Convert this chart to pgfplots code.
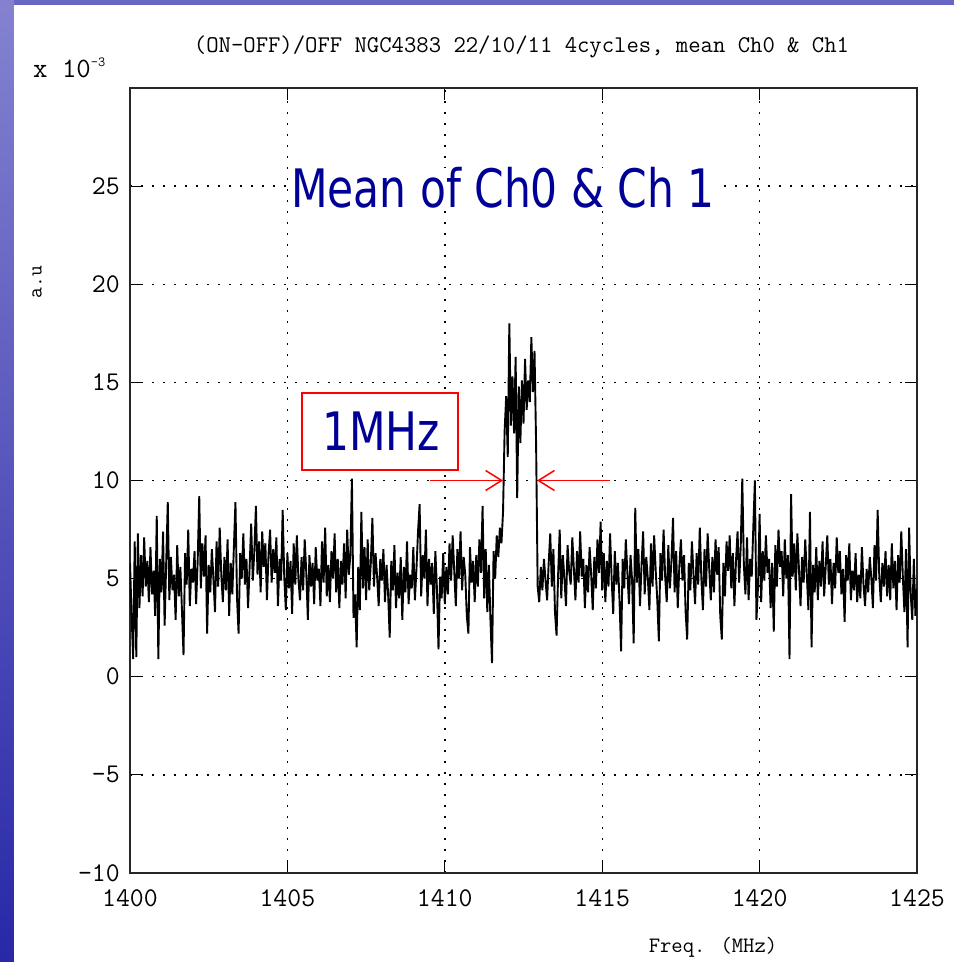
\documentclass[border=0pt]{standalone}
\usepackage{pgfplots}
\pgfplotsset{compat=1.18}
\usepackage{fontspec}
\newfontfamily\dejavu{DejaVu Sans}
\usetikzlibrary{arrows.meta}
\definecolor{navytext}{RGB}{0,0,150}
\definecolor{stripTop}{RGB}{132,130,208}
\definecolor{stripBot}{RGB}{40,40,168}
\definecolor{topstrip}{RGB}{104,102,196}
\newcommand{\tlab}[1]{\mbox{\fontsize{27}{27}\ttfamily #1}}
\begin{document}
\begin{tikzpicture}
\path[use as bounding box, fill=white] (-130pt,-89pt) rectangle (824pt,873pt);
\shade[top color=stripTop, bottom color=stripBot] (-130pt,-89pt) rectangle (-116pt,873pt);
\fill[topstrip] (-116pt,868pt) rectangle (824pt,873pt);
\begin{axis}[
  scale only axis, width=787pt, height=785pt,
  at={(0,0)}, anchor=south west,
  xmin=1400, xmax=1425, ymin=-10, ymax=30,
  xtick={1400,1405,1410,1415,1420,1425},
  xticklabels={\tlab{1400},\tlab{1405},\tlab{1410},\tlab{1415},\tlab{1420},\tlab{1425}},
  ytick={-10,-5,0,5,10,15,20,25},
  yticklabels={\tlab{-10},\tlab{-5},\tlab{0},\tlab{5},\tlab{10},\tlab{15},\tlab{20},\tlab{25}},
  tick pos=both, tick align=inside, major tick length=12pt,
  tick style={black, line width=1pt},
  axis line style={black!85, line width=1.2pt},
  grid=major,
  major grid style={black, line width=1.4pt, dash pattern=on 1.8pt off 9.2pt},
  ticklabel style={inner sep=0pt},
  xticklabel style={anchor=base, yshift=-33pt},
  yticklabel style={anchor=east, xshift=-10pt},
  clip=true,
]
\addplot[black, line width=1.9pt, line join=bevel] coordinates {
(1400.00,5.8)(1400.05,3.2)(1400.10,0.9)(1400.15,6.9)(1400.20,1.0)(1400.25,7.3)(1400.30,3.5)(1400.35,6.2)(1400.40,4.1)(1400.45,7.1)
(1400.50,4.6)(1400.55,5.9)(1400.60,3.8)(1400.65,6.6)(1400.70,4.2)(1400.75,5.4)(1400.80,3.1)(1400.85,8.2)(1400.90,0.9)(1400.95,6.0)
(1401.00,4.3)(1401.05,7.4)(1401.10,2.6)(1401.15,5.8)(1401.20,8.9)(1401.25,3.9)(1401.30,6.1)(1401.35,4.4)(1401.40,5.2)(1401.45,2.9)
(1401.50,6.7)(1401.55,4.1)(1401.60,5.6)(1401.65,3.4)(1401.70,1.1)(1401.75,6.3)(1401.80,4.7)(1401.85,7.5)(1401.90,3.6)(1401.95,5.5)
(1402.00,4.8)(1402.05,6.4)(1402.10,3.7)(1402.15,5.9)(1402.20,9.2)(1402.25,4.5)(1402.30,6.8)(1402.35,5.1)(1402.40,7.2)(1402.45,2.2)
(1402.50,5.7)(1402.55,4.3)(1402.60,6.5)(1402.65,5.0)(1402.70,3.3)(1402.75,6.9)(1402.80,4.6)(1402.85,7.6)(1402.90,5.2)(1402.95,3.8)
(1403.00,6.1)(1403.05,4.4)(1403.10,7.0)(1403.15,3.1)(1403.20,5.8)(1403.25,4.2)(1403.30,6.6)(1403.35,8.9)(1403.40,4.0)(1403.45,2.2)
(1403.50,6.3)(1403.55,5.0)(1403.60,7.3)(1403.65,4.7)(1403.70,6.0)(1403.75,3.5)(1403.80,5.6)(1403.85,7.8)(1403.90,4.9)(1403.95,6.4)
(1404.00,8.7)(1404.05,5.2)(1404.10,6.9)(1404.15,4.3)(1404.20,7.4)(1404.25,5.6)(1404.30,6.8)(1404.35,3.9)(1404.40,6.2)(1404.45,7.5)
(1404.50,4.8)(1404.55,6.5)(1404.60,5.3)(1404.65,7.1)(1404.70,3.6)(1404.75,6.0)(1404.80,4.9)(1404.85,8.5)(1404.90,5.1)(1404.95,3.4)
(1405.00,6.3)(1405.05,4.5)(1405.10,5.9)(1405.15,3.2)(1405.20,6.8)(1405.25,4.7)(1405.30,7.2)(1405.35,5.0)(1405.40,3.9)(1405.45,6.1)
(1405.50,4.4)(1405.55,7.0)(1405.60,5.3)(1405.65,2.9)(1405.70,6.2)(1405.75,4.6)(1405.80,5.8)(1405.85,3.7)(1405.90,6.6)(1405.95,4.9)
(1406.00,5.5)(1406.05,3.6)(1406.10,6.9)(1406.15,4.8)(1406.20,7.6)(1406.25,4.1)(1406.30,5.7)(1406.35,3.8)(1406.40,6.4)(1406.45,5.0)
(1406.50,7.3)(1406.55,4.3)(1406.60,6.0)(1406.65,3.5)(1406.70,5.9)(1406.75,4.7)(1406.80,6.8)(1406.85,4.0)(1406.90,7.5)(1406.95,5.2)
(1407.00,6.2)(1407.05,10.1)(1407.10,3.0)(1407.15,4.2)(1407.20,1.5)(1407.25,5.6)(1407.30,3.4)(1407.35,8.4)(1407.40,4.5)(1407.45,6.6)
(1407.50,3.9)(1407.55,7.0)(1407.60,4.4)(1407.65,5.8)(1407.70,8.1)(1407.75,4.6)(1407.80,6.3)(1407.85,5.1)(1407.90,3.6)(1407.95,6.0)
(1408.00,4.9)(1408.05,6.5)(1408.10,3.8)(1408.15,5.7)(1408.20,4.2)(1408.25,2.0)(1408.30,5.9)(1408.35,4.4)(1408.40,6.7)(1408.45,3.5)
(1408.50,5.3)(1408.55,4.0)(1408.60,6.1)(1408.65,2.9)(1408.70,5.6)(1408.75,4.3)(1408.80,6.9)(1408.85,3.7)(1408.90,5.2)(1408.95,4.5)
(1409.00,6.6)(1409.05,3.9)(1409.10,5.5)(1409.15,7.4)(1409.20,8.8)(1409.25,4.1)(1409.30,6.2)(1409.35,5.0)(1409.40,7.5)(1409.45,3.6)
(1409.50,6.0)(1409.55,4.7)(1409.60,5.8)(1409.65,3.2)(1409.70,6.4)(1409.75,4.5)(1409.80,1.4)(1409.85,5.1)(1409.90,4.0)(1409.95,6.3)
(1410.00,3.7)(1410.05,5.6)(1410.10,4.2)(1410.15,6.8)(1410.20,4.9)(1410.25,7.2)(1410.30,5.4)(1410.35,3.6)(1410.40,6.5)(1410.45,5.0)
(1410.50,7.4)(1410.55,4.4)(1410.60,6.1)(1410.65,5.2)(1410.70,3.1)(1410.75,2.2)(1410.80,6.6)(1410.85,4.8)(1410.90,5.9)(1410.95,3.8)
(1411.00,6.2)(1411.05,4.6)(1411.10,7.0)(1411.15,5.3)(1411.20,8.7)(1411.25,4.0)(1411.30,6.5)(1411.35,3.3)(1411.40,5.7)(1411.45,2.9)
(1411.50,0.7)(1411.55,6.4)(1411.60,5.0)(1411.65,7.2)(1411.70,6.1)(1411.75,7.6)(1411.80,6.8)(1411.85,8.4)(1411.90,12.5)(1411.95,14.3)
(1412.00,11.2)(1412.05,18.0)(1412.10,12.8)(1412.15,15.3)(1412.20,12.4)(1412.25,16.3)(1412.30,9.1)(1412.35,14.8)(1412.40,11.9)(1412.45,15.1)
(1412.50,12.9)(1412.55,16.2)(1412.60,13.6)(1412.65,15.1)(1412.70,14.0)(1412.75,17.3)(1412.80,14.5)(1412.85,16.6)(1412.90,11.9)(1412.95,4.6)
(1413.00,3.8)(1413.05,5.6)(1413.10,4.4)(1413.15,6.0)(1413.20,4.9)(1413.25,3.9)(1413.30,5.8)(1413.35,7.3)(1413.40,4.6)(1413.45,6.5)
(1413.50,3.3)(1413.55,2.1)(1413.60,5.2)(1413.65,7.5)(1413.70,4.0)(1413.75,6.2)(1413.80,5.0)(1413.85,3.6)(1413.90,6.7)(1413.95,5.4)
(1414.00,4.7)(1414.05,7.1)(1414.10,5.5)(1414.15,3.9)(1414.20,6.4)(1414.25,4.8)(1414.30,7.4)(1414.35,5.1)(1414.40,6.0)(1414.45,3.5)
(1414.50,5.7)(1414.55,4.3)(1414.60,6.6)(1414.65,5.2)(1414.70,3.4)(1414.75,6.1)(1414.80,4.5)(1414.85,7.0)(1414.90,5.3)(1414.95,7.9)
(1415.00,4.4)(1415.05,6.3)(1415.10,3.8)(1415.15,5.9)(1415.20,4.6)(1415.25,7.3)(1415.30,5.0)(1415.35,3.2)(1415.40,6.4)(1415.45,4.7)
(1415.50,5.8)(1415.55,3.9)(1415.60,1.3)(1415.65,6.0)(1415.70,4.5)(1415.75,7.0)(1415.80,5.3)(1415.85,3.7)(1415.90,6.2)(1415.95,4.9)
(1416.00,1.7)(1416.05,8.6)(1416.10,4.8)(1416.15,6.5)(1416.20,3.6)(1416.25,5.7)(1416.30,7.4)(1416.35,4.2)(1416.40,6.1)(1416.45,5.0)
(1416.50,3.4)(1416.55,6.8)(1416.60,4.6)(1416.65,7.2)(1416.70,5.4)(1416.75,3.9)(1416.80,1.8)(1416.85,6.3)(1416.90,4.9)(1416.95,7.5)
(1417.00,5.1)(1417.05,3.8)(1417.10,6.7)(1417.15,4.5)(1417.20,5.9)(1417.25,8.1)(1417.30,4.3)(1417.35,6.4)(1417.40,3.5)(1417.45,5.6)
(1417.50,7.0)(1417.55,4.9)(1417.60,6.2)(1417.65,3.3)(1417.70,1.9)(1417.75,5.8)(1417.80,4.4)(1417.85,6.9)(1417.90,5.2)(1417.95,3.7)
(1418.00,6.3)(1418.05,4.7)(1418.10,7.6)(1418.15,5.0)(1418.20,3.4)(1418.25,6.5)(1418.30,4.6)(1418.35,7.3)(1418.40,5.5)(1418.45,3.9)
(1418.50,6.1)(1418.55,4.3)(1418.60,7.0)(1418.65,5.2)(1418.70,6.6)(1418.75,3.1)(1418.80,1.9)(1418.85,5.8)(1418.90,4.1)(1418.95,6.9)
(1419.00,5.4)(1419.05,7.2)(1419.10,4.5)(1419.15,6.3)(1419.20,3.6)(1419.25,5.9)(1419.30,7.4)(1419.35,4.8)(1419.40,6.6)(1419.45,10.1)
(1419.50,5.7)(1419.55,4.2)(1419.60,7.1)(1419.65,3.9)(1419.70,6.0)(1419.75,5.1)(1419.80,7.6)(1419.85,10.0)(1419.90,2.9)(1419.95,4.6)
(1420.00,8.3)(1420.05,3.8)(1420.10,6.4)(1420.15,4.9)(1420.20,7.2)(1420.25,5.3)(1420.30,6.0)(1420.35,3.5)(1420.40,5.8)(1420.45,2.3)
(1420.50,6.7)(1420.55,4.6)(1420.60,7.5)(1420.65,5.6)(1420.70,6.4)(1420.75,4.1)(1420.80,7.0)(1420.85,5.0)(1420.90,6.2)(1420.95,0.9)
(1421.00,9.3)(1421.05,5.1)(1421.10,6.8)(1421.15,4.4)(1421.20,7.3)(1421.25,5.5)(1421.30,3.6)(1421.35,6.1)(1421.40,4.8)(1421.45,7.0)
(1421.50,5.2)(1421.55,3.4)(1421.60,8.4)(1421.65,1.5)(1421.70,5.7)(1421.75,4.3)(1421.80,6.6)(1421.85,3.9)(1421.90,5.9)(1421.95,4.6)
(1422.00,6.9)(1422.05,4.1)(1422.10,5.6)(1422.15,7.2)(1422.20,4.7)(1422.25,6.0)(1422.30,3.7)(1422.35,5.8)(1422.40,4.5)(1422.45,7.1)
(1422.50,5.3)(1422.55,6.4)(1422.60,4.2)(1422.65,5.5)(1422.70,2.8)(1422.75,6.2)(1422.80,4.9)(1422.85,6.8)(1422.90,3.9)(1422.95,5.4)
(1423.00,4.4)(1423.05,6.3)(1423.10,3.8)(1423.15,5.2)(1423.20,4.0)(1423.25,6.6)(1423.30,4.7)(1423.35,3.6)(1423.40,5.5)(1423.45,4.3)
(1423.50,6.1)(1423.55,5.0)(1423.60,3.5)(1423.65,6.7)(1423.70,4.9)(1423.75,8.5)(1423.80,5.2)(1423.85,3.8)(1423.90,5.8)(1423.95,4.6)
(1424.00,6.4)(1424.05,4.1)(1424.10,5.7)(1424.15,3.9)(1424.20,6.8)(1424.25,4.5)(1424.30,5.9)(1424.35,3.4)(1424.40,6.2)(1424.45,4.8)
(1424.50,7.4)(1424.55,5.1)(1424.60,3.3)(1424.65,6.5)(1424.70,1.5)(1424.75,7.6)(1424.80,4.2)(1424.85,2.9)(1424.90,6.0)(1424.95,3.1)
(1425.00,4.5)
};
% annotations
\draw[red, line width=1.5pt, -{Straight Barb[length=16pt, width=20pt, line width=1.5pt]}] (axis cs:1409.53,10) -- (axis cs:1411.85,10);
\draw[red, line width=1.5pt, -{Straight Barb[length=16pt, width=20pt, line width=1.5pt]}] (axis cs:1415.25,10) -- (axis cs:1412.93,10);
\end{axis}
% box and texts (picture coords: x = px-130, y = 873-py)
\draw[red, line width=1.6pt, fill=white] (172pt,403pt) rectangle (328pt,480pt);
\node[anchor=base, inner sep=0pt, text=navytext, font=\dejavu\fontsize{53}{60}\selectfont, xscale=0.8] at (251pt,422pt) {1MHz};
\node[anchor=base, inner sep=0pt, text=navytext, font=\dejavu\fontsize{53}{60}\selectfont, xscale=0.8, fill=white] at (373pt,665pt) {Mean of Ch0 \& Ch 1};
\node[anchor=base, inner sep=0pt, font=\fontsize{24}{24}\ttfamily] at (391.5pt,820pt) {(ON-OFF)/OFF NGC4383 22/10/11 4cycles, mean Ch0 \& Ch1};
\node[anchor=base west, inner sep=0pt, font=\fontsize{28}{28}\ttfamily] at (-97pt,795pt) {x 10\raisebox{11pt}{\fontsize{14}{14}\selectfont -3}};
\node[anchor=center, inner sep=0pt, rotate=90, font=\fontsize{21}{21}\ttfamily] at (-93pt,591pt) {a.u};
\node[anchor=base, inner sep=0pt, font=\fontsize{22}{22}\ttfamily] at (583pt,-79pt) {Freq. (MHz)};
\end{tikzpicture}
\end{document}
